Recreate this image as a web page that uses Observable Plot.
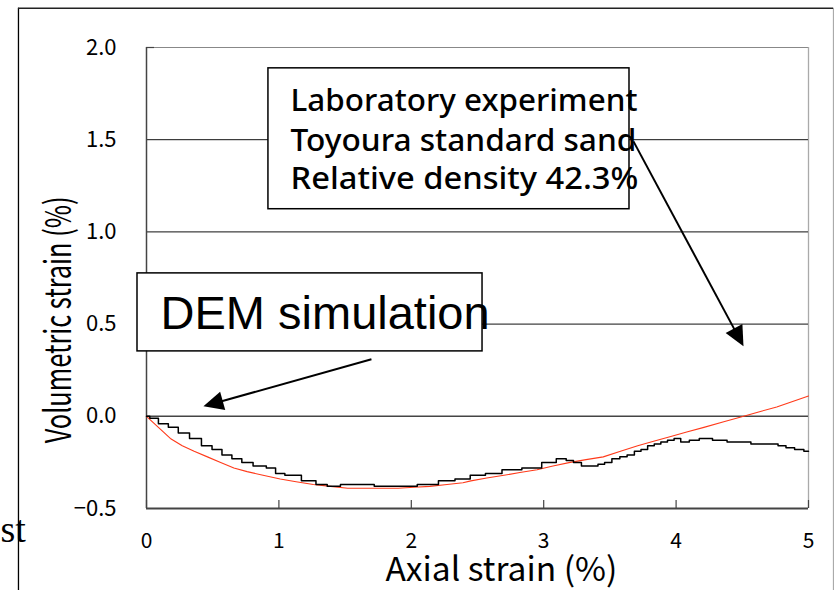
<!DOCTYPE html>
<html><head><meta charset="utf-8">
<script src="https://cdn.jsdelivr.net/npm/d3@7"></script>
<script src="https://cdn.jsdelivr.net/npm/@observablehq/plot@0.6"></script>
<style>body{margin:0;background:#fff}</style>
</head><body><div id="chart"></div>
<script>
// Axial strain (%) and volumetric strain (%) – stepped black curve
const blackX = [0,0.05,0.13,0.2,0.28,0.37,0.46,0.53,0.61,0.68,0.76,0.85,0.96,0.99,1.1,1.24,1.32,1.41,1.52,1.65,1.79,1.95,2.14,2.27,2.39,2.5,2.62,2.75,2.92,3.05,3.14,3.2,3.25,3.32,3.38,3.44,3.48,3.55,3.6,3.66,3.71,3.76,3.81,3.86,3.91,3.96,4.01,4.06,4.14,4.21,4.34,4.43,4.51,4.62,4.74,4.8,4.86,4.93,5.0];
const blackY = [0,-0.01,-0.04,-0.06,-0.09,-0.12,-0.16,-0.18,-0.21,-0.23,-0.25,-0.27,-0.28,-0.31,-0.32,-0.35,-0.37,-0.38,-0.37,-0.37,-0.38,-0.38,-0.37,-0.35,-0.34,-0.32,-0.31,-0.29,-0.28,-0.25,-0.23,-0.24,-0.25,-0.27,-0.27,-0.26,-0.25,-0.23,-0.22,-0.21,-0.19,-0.18,-0.16,-0.15,-0.14,-0.13,-0.12,-0.14,-0.13,-0.12,-0.13,-0.14,-0.14,-0.15,-0.15,-0.16,-0.17,-0.18,-0.19];
// smooth red curve
const redX = [0,0.09,0.18,0.27,0.36,0.46,0.56,0.66,0.76,0.88,1.01,1.13,1.26,1.39,1.52,1.7,1.9,2.02,2.14,2.27,2.39,2.45,2.57,2.7,2.82,2.95,3.07,3.2,3.32,3.45,3.58,3.71,3.83,3.96,4.08,4.21,4.36,4.51,4.63,4.76,4.88,5.0];
const redY = [0,-0.06,-0.12,-0.16,-0.19,-0.22,-0.25,-0.28,-0.30,-0.32,-0.34,-0.355,-0.37,-0.38,-0.39,-0.39,-0.39,-0.385,-0.38,-0.37,-0.36,-0.35,-0.335,-0.32,-0.305,-0.29,-0.27,-0.25,-0.235,-0.22,-0.19,-0.16,-0.135,-0.11,-0.085,-0.06,-0.03,0.0,0.025,0.05,0.08,0.11];
const xTicks = [0,1,2,3,4,5];
const yTicks = [-0.5,0,0.5,1.0,1.5,2.0];
const gridDark = [0.5,1.0,1.5];
const labLines = ["Laboratory experiment","Toyoura standard sand","Relative density 42.3%"];
const labLineY = [1.708,1.491,1.285];
const demLabel = "DEM simulation";
const yTitle = "Volumetric strain (%)";
const xTitle = "Axial strain (%)";
const strayText = "st";

const black = blackX.map((x,i)=>({x,y:blackY[i]}));
const red = redX.map((x,i)=>({x,y:redY[i]}));

// annotation geometry (data units)
const labBox = {x1:0.921,x2:3.648,y1:1.123,y2:1.887};
const demBox = {x1:-0.068,x2:2.538,y1:0.352,y2:0.775};
const arrows = [
  {x1:1.699,y1:0.309,x2:0.43,y2:0.054},
  {x1:3.678,y1:1.491,x2:4.509,y2:0.38}
];

const xs = 132.4, ys = 184.4; // px per unit (used for arrow angle)
arrows.forEach(a=>{
  const dx=(a.x2-a.x1)*xs, dy=-(a.y2-a.y1)*ys;
  a.angle = Math.atan2(dx,-dy)*180/Math.PI;
  a.len = Math.hypot(dx,dy);
  const hl = 20/ a.len;
  a.hx = a.x2 - (a.x2-a.x1)*hl*0.5;
  a.hy = a.y2 - (a.y2-a.y1)*hl*0.5;
  a.sx = a.x2 - (a.x2-a.x1)*hl*0.9;
  a.sy = a.y2 - (a.y2-a.y1)*hl*0.9;
});
const headSymbol = {draw(ctx, size){
  ctx.moveTo(0,-10); ctx.lineTo(9.5,10); ctx.lineTo(-9.5,10); ctx.closePath();
}};

// text widths (px) to match the reference's glyph proportions
const textWidths = new Map([
  [yTitle,247],[xTitle,232],
  ["Laboratory experiment",347],["Toyoura standard sand",346],["Relative density 42.3%",348]
]);

const gothic = "'Noto Sans CJK JP','Liberation Sans',sans-serif";

const chart = Plot.plot({
  width:834, height:590,
  marginLeft:146, marginRight:26, marginTop:47, marginBottom:82,
  x:{domain:[0,5]}, y:{domain:[-0.5,2.0]},
  style:{background:"#fff"},
  marks:[
    // grid & plot frame
    Plot.ruleY([2.0],{stroke:"#888",strokeWidth:1}),
    Plot.ruleX([5],{stroke:"#aaa",strokeWidth:1.3}),
    Plot.ruleY(gridDark,{stroke:"#111",strokeWidth:1}),
    Plot.ruleY([0],{stroke:"#444",strokeWidth:1.5}),
    Plot.ruleY([-0.5],{stroke:"#444",strokeWidth:2}),
    Plot.ruleX([0],{stroke:"#444",strokeWidth:1.5}),
    Plot.ruleX(xTicks,{y1:-0.5,y2:-0.5+8/ys,stroke:"#444",strokeWidth:1.2}),
    Plot.ruleY([2.0],{x1:0,x2:8/xs,stroke:"#444",strokeWidth:1.2}),
    Plot.axisX({ticks:xTicks,tickSize:0,tickPadding:25,fontSize:21,tickFormat:d=>String(d),label:null,fontFamily:gothic}),
    Plot.axisY({ticks:yTicks,tickSize:0,tickPadding:30,fontSize:22,tickFormat:d=>d.toFixed(1).replace("-","\u2212"),label:null,fontFamily:gothic}),
    // curves
    Plot.line(red,{x:"x",y:"y",stroke:"#ff3a1a",strokeWidth:1.1}),
    Plot.line(black,{x:"x",y:"y",stroke:"#000",strokeWidth:1.5,curve:"step"}),
    // annotation boxes
    Plot.rect([labBox],{x1:"x1",x2:"x2",y1:"y1",y2:"y2",fill:"#fff",stroke:"#000",strokeWidth:1.5}),
    Plot.rect([demBox],{x1:"x1",x2:"x2",y1:"y1",y2:"y2",fill:"#fff",stroke:"#000",strokeWidth:1.5}),
    Plot.text(labLines,{x:1.088,y:(d,i)=>labLineY[i],text:d=>d,textAnchor:"start",fontSize:31,fontWeight:500,fill:"#000",fontFamily:"'Noto Sans','Open Sans',sans-serif"}),
    Plot.text([demLabel],{x:0.106,y:0.553,text:d=>d,textAnchor:"start",fontSize:47,fill:"#000",fontFamily:"'Liberation Sans',Arial,sans-serif"}),
    // arrows
    Plot.link(arrows,{x1:"x1",y1:"y1",x2:"sx",y2:"sy",stroke:"#000",strokeWidth:2}),
    Plot.dot(arrows,{x:"hx",y:"hy",symbol:headSymbol,rotate:"angle",fill:"#000",stroke:"none",r:10}),
    // axis titles
    Plot.text([yTitle],{x:-0.655,y:0.523,text:d=>d,rotate:-90,fontSize:36,fill:"#000",fontFamily:gothic}),
    Plot.text([xTitle],{x:2.681,y:-0.834,text:d=>d,fontSize:33,fill:"#000",fontFamily:gothic}),
    Plot.text([strayText],{x:-1.103,y:-0.613,text:d=>d,textAnchor:"start",fontSize:38,fill:"#000",fontFamily:"'Liberation Serif',serif"}),
    // outer frame of the figure
    Plot.ruleX([-0.967],{y1:-1.2,y2:2.2126,stroke:"#000",strokeWidth:1.3}),
    Plot.ruleX([5.189],{y1:-1.2,y2:2.2126,stroke:"#aaa",strokeWidth:1.3}),
    Plot.ruleY([2.2126],{x1:-0.967,x2:5.189,stroke:"#222",strokeWidth:1.5})
  ]
});
document.getElementById("chart").append(chart);
// horizontally rescale selected texts about their anchor so their length matches the reference
d3.select(chart).selectAll("text").each(function(){
  const w = textWidths.get(this.textContent);
  if (!w) return;
  const natural = this.getComputedTextLength();
  if (!natural) return;
  const s = w / natural;
  const bb = this.getBBox();
  const anchor = getComputedStyle(this).textAnchor;
  const ax = anchor === "start" ? bb.x : anchor === "end" ? bb.x + bb.width : bb.x + bb.width / 2;
  const t = this.getAttribute("transform") || "";
  this.setAttribute("transform", `${t} translate(${ax},0) scale(${s},1) translate(${-ax},0)`);
});
</script></body></html>
